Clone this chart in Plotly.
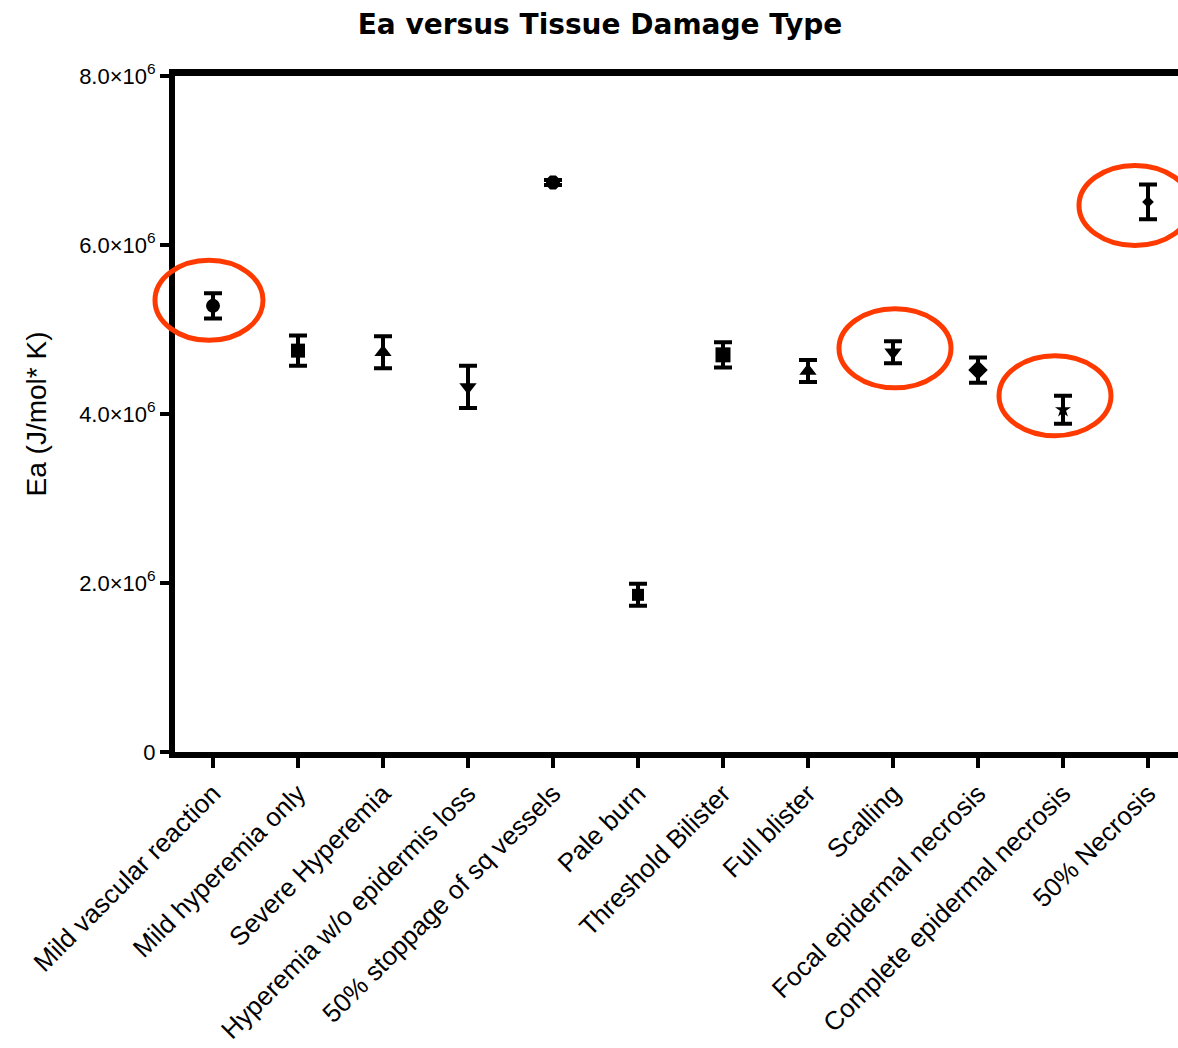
import plotly.graph_objects as go

# Tissue damage categories and activation energy (J/mol*K)
categories = [
    "Mild vascular reaction",
    "Mild hyperemia only",
    "Severe Hyperemia",
    "Hyperemia w/o epidermis loss",
    "50% stoppage of sq vessels",
    "Pale burn",
    "Threshold Bilister",
    "Full blister",
    "Scalling",
    "Focal epidermal necrosis",
    "Complete epidermal necrosis",
    "50% Necrosis",
]
ea_mean = [5.28e6, 4.75e6, 4.73e6, 4.32e6, 6.74e6, 1.86e6,
           4.70e6, 4.51e6, 4.73e6, 4.52e6, 4.05e6, 6.51e6]
ea_err = [0.15e6, 0.18e6, 0.19e6, 0.25e6, 0.03e6, 0.13e6,
          0.15e6, 0.13e6, 0.13e6, 0.15e6, 0.165e6, 0.205e6]

# Categories circled in red
highlighted = ["Mild vascular reaction", "Scalling",
               "Complete epidermal necrosis", "50% Necrosis"]

y_tick_vals = [0, 2e6, 4e6, 6e6, 8e6]
y_tick_text = ["0", "2.0×10<sup>6</sup>", "4.0×10<sup>6</sup>",
               "6.0×10<sup>6</sup>", "8.0×10<sup>6</sup>"]

# Marker styling per category
symbols = ["circle", "square", "triangle-up", "triangle-down", "octagon", "square",
           "square", "triangle-up", "triangle-down", "diamond", "star", "diamond"]
sizes = [14, 14, 15, 15, 15, 12, 15, 15, 15, 15, 12, 9]

# Ellipse placement around circled points: (dx, dy) pixel shift of the centre, radii
ring_style = {
    "Mild vascular reaction": (-4, 5.5, 54, 40),
    "Scalling": (2, 4, 56, 39.5),
    "Complete epidermal necrosis": (-8, 14, 56, 40),
    "50% Necrosis": (-13, -3.5, 56, 40),
}

xs = list(range(len(categories)))
x_range = [-0.447, 11.353]
y_range = [0, 8e6]
AX_FONT = "Liberation Sans, Arial, sans-serif"

fig = go.Figure()
fig.add_trace(go.Scatter(
    x=xs, y=ea_mean, mode="markers", opacity=1,
    marker=dict(symbol=symbols, size=sizes, color="black", opacity=1,
                line=dict(width=0)),
    error_y=dict(type="data", array=ea_err, visible=True,
                 color="black", thickness=4, width=9),
    showlegend=False, cliponaxis=False,
))

# invisible trace so the top border axis gets drawn
fig.add_trace(go.Scatter(x=[xs[0]], y=[0], xaxis="x2", mode="markers",
                         marker=dict(opacity=0), showlegend=False, hoverinfo="skip"))


def to_paper(v, rng):
    return (v - rng[0]) / (rng[1] - rng[0])


# rings are anchored in paper space so they may cross the axis lines unclipped
for name in highlighted:
    i = categories.index(name)
    dx, dy, rx, ry = ring_style[name]
    fig.add_shape(
        type="circle", xref="paper", yref="paper",
        xsizemode="pixel", ysizemode="pixel",
        xanchor=to_paper(xs[i], x_range), yanchor=to_paper(ea_mean[i], y_range),
        x0=dx - rx, x1=dx + rx, y0=dy - ry, y1=dy + ry,
        line=dict(color="#FF3A00", width=5),
    )

fig.update_layout(
    width=1178, height=1048,
    margin=dict(l=175, r=0, t=76, b=296),
    paper_bgcolor="white", plot_bgcolor="white",
    title=dict(text="<b>Ea versus Tissue Damage Type</b>",
               x=600 / 1178, xanchor="center", y=1 - 24 / 1048, yanchor="middle",
               font=dict(family="DejaVu Sans, sans-serif", size=28, color="black")),
    xaxis=dict(
        range=x_range, tickmode="array", tickvals=xs, ticktext=categories,
        tickangle=-45, ticks="outside", ticklen=10, tickwidth=4, tickcolor="black",
        showline=True, linewidth=6, linecolor="black",
        showgrid=False, zeroline=False,
        tickfont=dict(family=AX_FONT, size=26, color="black"),
    ),
    xaxis2=dict(
        range=x_range, overlaying="x", side="top", anchor="y",
        showline=True, linewidth=7, linecolor="black",
        showticklabels=False, ticks="", showgrid=False, zeroline=False,
    ),
    yaxis=dict(
        range=y_range, tickmode="array", tickvals=y_tick_vals, ticktext=y_tick_text,
        ticks="outside", ticklen=9, tickwidth=4, tickcolor="black",
        showline=True, linewidth=6, linecolor="black",
        showgrid=False, zeroline=False,
        tickfont=dict(family=AX_FONT, size=22, color="black"),
        title=dict(text="Ea (J/mol* K)", standoff=26,
                   font=dict(family=AX_FONT, size=28, color="black")),
    ),
)

fig.write_html("out.html")
